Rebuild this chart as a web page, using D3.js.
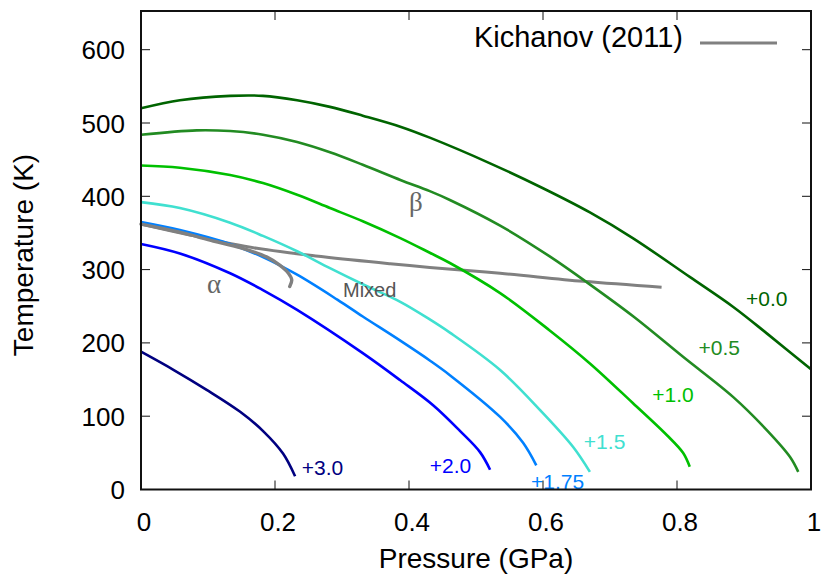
<!DOCTYPE html>
<html>
<head>
<meta charset="utf-8">
<script src="https://cdnjs.cloudflare.com/ajax/libs/d3/7.8.5/d3.min.js"></script>
<style>
	body { margin: 0; background: #fff; }
	text { font-family: "Liberation Sans", Arial, sans-serif; }
</style>
</head>
<body>
<div id="chart-container"></div>
<script>
// phase diagram: pressure (GPa) vs temperature (K)

// one curve per shift
let shiftLabels = ["+0.0", "+0.5", "+1.0", "+1.5", "+1.75", "+2.0", "+3.0"];
let shiftColors = ["#006400", "#228b22", "#00c000", "#40e0d0", "#0080ff", "#0000ff", "#000080"];

let p00 = [0, 0.058, 0.133, 0.182, 0.233, 0.282, 0.331, 0.387, 0.431, 0.521, 0.6, 0.67, 0.734, 0.819, 0.884, 0.934, 1.0];
let t00 = [520, 531, 537, 537, 531, 522, 510, 495, 480, 445, 411, 378, 343, 290, 249, 213, 164];

let p05 = [0, 0.083, 0.133, 0.182, 0.233, 0.282, 0.331, 0.388, 0.431, 0.461, 0.536, 0.61, 0.665, 0.735, 0.809, 0.884, 0.934, 0.969, 0.981];
let t05 = [484, 490, 489, 484, 474, 460, 443, 422, 407, 395, 360, 318, 283, 236, 181, 126, 81, 44, 24];

let p10 = [0, 0.058, 0.133, 0.182, 0.233, 0.282, 0.331, 0.387, 0.431, 0.461, 0.536, 0.61, 0.67, 0.734, 0.785, 0.809, 0.819];
let t10 = [442, 439, 429, 418, 402, 384, 366, 343, 323, 309, 268, 217, 172, 118, 74, 50, 31];

let p15 = [0, 0.058, 0.133, 0.182, 0.233, 0.282, 0.331, 0.387, 0.431, 0.461, 0.536, 0.596, 0.645, 0.67];
let t15 = [392, 384, 364, 346, 325, 302, 280, 256, 232, 214, 163, 108, 58, 24];

let p175 = [0, 0.058, 0.133, 0.182, 0.233, 0.293, 0.331, 0.387, 0.431, 0.461, 0.536, 0.57, 0.59];
let t175 = [365, 354, 335, 317, 293, 259, 236, 203, 176, 156, 99, 64, 33];

let p20 = [0, 0.058, 0.133, 0.182, 0.233, 0.331, 0.387, 0.436, 0.476, 0.506, 0.521];
let t20 = [335, 322, 295, 272, 245, 186, 149, 115, 80, 51, 27];

let p30 = [0, 0.049, 0.098, 0.148, 0.183, 0.212, 0.23];
let t30 = [188, 163, 136, 106, 79, 49, 18];

// Kichanov (2011) reference line
let pKich = [0, 0.073, 0.173, 0.272, 0.372, 0.431, 0.536, 0.66, 0.777];
let tKich = [362, 347, 329, 317.5, 308, 303, 295, 284, 276];

// alpha / mixed boundary (hooks back at the end)
let pAlpha = [0, 0.058, 0.108, 0.148, 0.188, 0.207, 0.22, 0.225, 0.222];
let tAlpha = [362, 351, 339, 330, 317, 306, 295, 286, 277];

let xTicks = [0, 0.2, 0.4, 0.6, 0.8, 1];
let yTicks = [0, 100, 200, 300, 400, 500, 600];

// label anchor points (pressure, temperature) for each curve label
let labelP = [0.903, 0.832, 0.763, 0.661, 0.582, 0.431, 0.24];
let labelT = [250, 183.5, 119, 55, 0.7, 22.5, 20];

class PhaseDiagram {
	constructor()
	{
		this.width = 822;
		this.height = 576;
		this.curves = [
			[p00, t00], [p05, t05], [p10, t10], [p15, t15],
			[p175, t175], [p20, t20], [p30, t30]
		];
		this.draw();
	}

	draw()
	{
		let svg = d3.select("#chart-container").append("svg")
			.attr("width", this.width)
			.attr("height", this.height);

		let x = d3.scaleLinear().domain([0, 1]).range([141, 811]);
		let y = d3.scaleLinear().domain([0, 600]).range([489.5, 49.7]);
		let top = 11;

		let line = d3.line()
			.x(d => x(d[0]))
			.y(d => y(d[1]))
			.curve(d3.curveCatmullRom);

		let zip = (ps, ts) => ps.map((p, i) => [p, ts[i]]);

		// kichanov first, the coloured curves lie over it
		svg.append("path")
			.attr("d", line(zip(pKich, tKich)))
			.attr("fill", "none")
			.attr("stroke", "#808080")
			.attr("stroke-width", 3);

		svg.selectAll(".shift-curve")
			.data(this.curves)
			.join("path")
			.classed("shift-curve", true)
			.attr("d", d => line(zip(d[0], d[1])))
			.attr("fill", "none")
			.attr("stroke", (d, i) => shiftColors[i])
			.attr("stroke-width", 2.6)
			.attr("stroke-linejoin", "round");

		svg.append("path")
			.attr("d", line(zip(pAlpha, tAlpha)))
			.attr("fill", "none")
			.attr("stroke", "#808080")
			.attr("stroke-width", 3.4)
			.attr("stroke-linecap", "round");

		svg.selectAll(".shift-label")
			.data(shiftLabels)
			.join("text")
			.classed("shift-label", true)
			.attr("x", (d, i) => x(labelP[i]))
			.attr("y", (d, i) => y(labelT[i]))
			.attr("font-size", "21px")
			.attr("fill", (d, i) => shiftColors[i])
			.text(d => d);

		// phase region labels
		svg.append("text")
			.attr("x", 207).attr("y", 293)
			.attr("font-size", "27px")
			.attr("fill", "#666")
			.style("font-family", "'Liberation Serif', serif")
			.text("α");
		svg.append("text")
			.attr("x", 409).attr("y", 211)
			.attr("font-size", "27px")
			.attr("fill", "#666")
			.style("font-family", "'Liberation Serif', serif")
			.text("β");
		svg.append("text")
			.attr("x", 343).attr("y", 297)
			.attr("font-size", "20px")
			.attr("fill", "#555")
			.text("Mixed");

		// frame and inward ticks on all four sides
		svg.append("rect")
			.attr("x", x(0)).attr("y", top)
			.attr("width", x(1) - x(0))
			.attr("height", y(0) - top)
			.attr("fill", "none")
			.attr("stroke", "#111")
			.attr("stroke-width", 2);

		let tickLen = 9;
		let tickG = svg.append("g").attr("stroke", "#111").attr("stroke-width", 1);
		tickG.selectAll(".xb").data(xTicks.slice(1, -1)).join("line")
			.attr("x1", d => x(d)).attr("x2", d => x(d))
			.attr("y1", y(0)).attr("y2", y(0) - tickLen);
		tickG.selectAll(".xt").data(xTicks.slice(1, -1)).join("line")
			.attr("x1", d => x(d)).attr("x2", d => x(d))
			.attr("y1", top).attr("y2", top + tickLen);
		tickG.selectAll(".yl").data(yTicks.slice(1)).join("line")
			.attr("x1", x(0)).attr("x2", x(0) + tickLen)
			.attr("y1", d => y(d)).attr("y2", d => y(d));
		tickG.selectAll(".yr").data(yTicks.slice(1)).join("line")
			.attr("x1", x(1)).attr("x2", x(1) - tickLen)
			.attr("y1", d => y(d)).attr("y2", d => y(d));

		svg.selectAll(".xtick-label")
			.data(xTicks)
			.join("text")
			.classed("xtick-label", true)
			.attr("x", d => x(d) + 3)
			.attr("y", 531)
			.attr("text-anchor", "middle")
			.attr("font-size", "26px")
			.text(d => d3.format("")(d));

		svg.selectAll(".ytick-label")
			.data(yTicks)
			.join("text")
			.classed("ytick-label", true)
			.attr("x", 125)
			.attr("y", d => y(d) + 9.5)
			.attr("text-anchor", "end")
			.attr("font-size", "26px")
			.text(d => d);

		svg.append("text")
			.attr("x", 476).attr("y", 568)
			.attr("text-anchor", "middle")
			.attr("font-size", "28px")
			.text("Pressure (GPa)");

		svg.append("text")
			.attr("transform", "translate(33,255) rotate(-90)")
			.attr("text-anchor", "middle")
			.attr("font-size", "28px")
			.text("Temperature (K)");

		// legend
		svg.append("text")
			.attr("x", 683).attr("y", 47)
			.attr("text-anchor", "end")
			.attr("font-size", "29px")
			.text("Kichanov (2011)");
		svg.append("line")
			.attr("x1", 700).attr("x2", 777)
			.attr("y1", 43).attr("y2", 43)
			.attr("stroke", "#808080")
			.attr("stroke-width", 3);
	}
}

let diagram = new PhaseDiagram();
</script>
</body>
</html>
